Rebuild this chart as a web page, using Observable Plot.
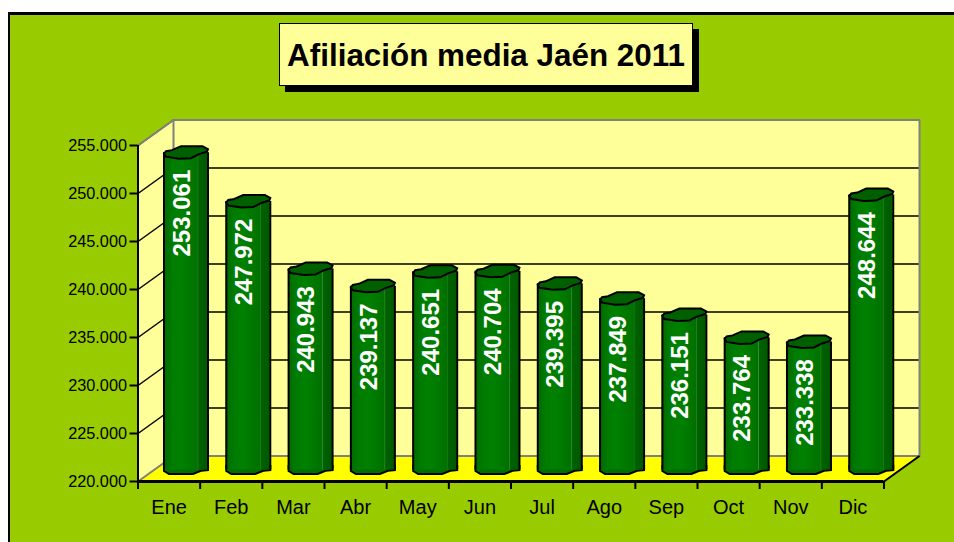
<!DOCTYPE html>
<html><head><meta charset="utf-8">
<script src="https://cdn.jsdelivr.net/npm/d3@7"></script>
<script src="https://cdn.jsdelivr.net/npm/@observablehq/plot@0.6"></script>
<style>
html,body{margin:0;padding:0;background:#fff;overflow:hidden}
#frame{position:absolute;left:8px;top:12px;width:946px;height:530px;box-sizing:border-box;background:#99cc00;border-left:2px solid #000;border-top:3px solid #000}
#chart{position:absolute;left:0;top:0}
#title{position:absolute;left:279px;top:23px;width:414px;height:63px;box-sizing:border-box;padding-top:3px;background:#ffff99;border:1.5px solid #000;box-shadow:6px 6px 0 #000;font:bold 31.4px "Liberation Sans",Arial,sans-serif;color:#000;display:flex;align-items:center;justify-content:center;white-space:nowrap}
</style></head><body>
<div id="frame"></div><div id="chart"></div>
<div id="title">Afiliación media Jaén 2011</div>
<script>
const months = ["Ene","Feb","Mar","Abr","May","Jun","Jul","Ago","Sep","Oct","Nov","Dic"];
const values = [253061,247972,240943,239137,240651,240704,239395,237849,236151,233764,233338,248644];
const yTicks = [220000,225000,230000,235000,240000,245000,250000,255000];
const esNum = d3.formatLocale({decimal:",",thousands:".",grouping:[3],currency:["","€"]}).format(",d");

const yMin = 220000, yMax = 255000;
const unitX = (883.5-137.5)/12, unitY = 336/35000;
const dX = 35.5/unitX, dY = 25.5/unitY;        // depth of the box in data units
const barHalf = 22/unitX;
const center = i => i + 0.772 + i*0.0021;      // bars sit mid-depth in the box
const midDY = dY*0.45;
const rows = months.map((m,i)=>({m,i,v:values[i],c:center(i),y0:yMin+midDY,y1:values[i]+midDY}));

const capShape = {draw(c){ // faceted top of a column
  c.moveTo(-22,1);c.lineTo(-20,-1.5);c.lineTo(-14,-2.5);c.lineTo(-5,-6.5);c.lineTo(16.5,-6.5);c.lineTo(22,-3.5);c.lineTo(21,-1);c.lineTo(13,1.5);c.lineTo(5,5.5);c.lineTo(-7,6);c.lineTo(-20,4);c.closePath();
}};
const baseShape = {draw(c){ // its upper edge stays hidden behind the column
  c.moveTo(-22,-4);c.lineTo(-22,1);c.lineTo(-17,4);c.lineTo(7,4);c.lineTo(15,0.8);c.lineTo(22,0);c.lineTo(22,-4);c.closePath();
}};

const gradient = () => {
  const defs = d3.create("svg:defs");
  const g = defs.append("linearGradient").attr("id","col").attr("x1",0).attr("x2",1).attr("y1",0).attr("y2",0);
  [[0,"#006a00"],[.2,"#007c00"],[.4,"#008000"],[.6,"#007800"],[.77,"#007000"],[.78,"#2f8f2f"],[.80,"#006200"],[1,"#005800"]]
    .forEach(([o,c])=>g.append("stop").attr("offset",o).attr("stop-color",c));
  return defs.node();
};

const inner = yTicks.slice(1);
const plot = Plot.plot({
  width:954,height:542,
  marginLeft:137.5,marginRight:70.5,marginTop:145,marginBottom:61,
  style:{background:"transparent",fontFamily:'"Liberation Sans",Arial,sans-serif',overflow:"visible"},
  x:{type:"linear",domain:[0,12],axis:null},
  y:{type:"linear",domain:[yMin,yMax],axis:null},
  marks:[
    gradient,
    // back wall
    Plot.rect([0],{x1:dX,x2:12+dX,y1:yMin+dY,y2:yMax+dY,fill:"#ffff99"}),
    // side wall
    Plot.areaY([0,dX],{x:d=>d,y1:d=>yMin+d/dX*dY,y2:d=>yMax+d/dX*dY,fill:"#ffff99"}),
    // floor
    Plot.area([0,12],{x1:d=>d,y1:yMin,x2:d=>d+dX,y2:yMin+dY,fill:"#ffff00"}),
    // grid, back wall
    Plot.ruleY(inner,{y:d=>d+dY,x1:dX,x2:12+dX,stroke:"#000",strokeWidth:1.5}),
    // grid, side wall
    Plot.link(inner,{x1:0,y1:d=>d,x2:dX,y2:d=>d+dY,stroke:"#000",strokeWidth:1.5}),
    // box edges in grey
    Plot.line([[0,yMin],[dX,yMin+dY],[12+dX,yMin+dY]],{x:"0",y:"1",stroke:"#808080",strokeWidth:2}),
    Plot.line([[0,yMax],[dX,yMax+dY],[12+dX,yMax+dY],[12+dX,yMin+dY]],{x:"0",y:"1",stroke:"#808080",strokeWidth:2}),
    Plot.ruleX([dX],{y1:yMin+dY,y2:yMax+dY,stroke:"#808080",strokeWidth:2}),
    // floor front/right edge and axes
    Plot.link([0],{x1:12,y1:yMin,x2:12+dX,y2:yMin+dY,stroke:"#000",strokeWidth:2}),
    Plot.ruleX([0],{y1:yMin,y2:yMax,stroke:"#000",strokeWidth:2}),
    Plot.ruleY([yMin],{x1:0,x2:12,stroke:"#000",strokeWidth:3}),
    Plot.axisY({ticks:yTicks,tickSize:8,tickPadding:3,fontSize:16.3,tickFormat:esNum,stroke:"#000",strokeWidth:2,label:null}),
    Plot.axisX({ticks:d3.range(13),tickSize:8,tickFormat:()=>"",strokeWidth:2,stroke:"#000",label:null}),
    Plot.axisX({ticks:months.map((m,i)=>i+.5),tickSize:0,tickPadding:18,fontSize:20,tickFormat:d=>months[d-.5],label:null}),
    // columns
    Plot.dot(rows,{x:"c",y:"y0",symbol:()=>baseShape,r:1,fill:"#006f00",stroke:"#000",strokeWidth:2}),
    Plot.rect(rows,{x1:d=>d.c-barHalf,x2:d=>d.c+barHalf,y1:"y0",y2:"y1",fill:"url(#col)"}),
    Plot.ruleX(rows,{x:d=>d.c-barHalf,y1:"y0",y2:"y1",stroke:"#000",strokeWidth:2}),
    Plot.ruleX(rows,{x:d=>d.c+barHalf,y1:"y0",y2:"y1",stroke:"#000",strokeWidth:2}),
    Plot.dot(rows,{x:"c",y:"y1",symbol:()=>capShape,r:1,fill:"#006000",stroke:"#000",strokeWidth:2}),
    Plot.text(rows,{x:"c",y:"y1",text:d=>esNum(d.v),rotate:-90,textAnchor:"middle",dx:-4,dy:60.5,fill:"#fff",fontWeight:"bold",fontSize:24})
  ]
});
document.getElementById("chart").append(plot);
</script>
</body></html>
